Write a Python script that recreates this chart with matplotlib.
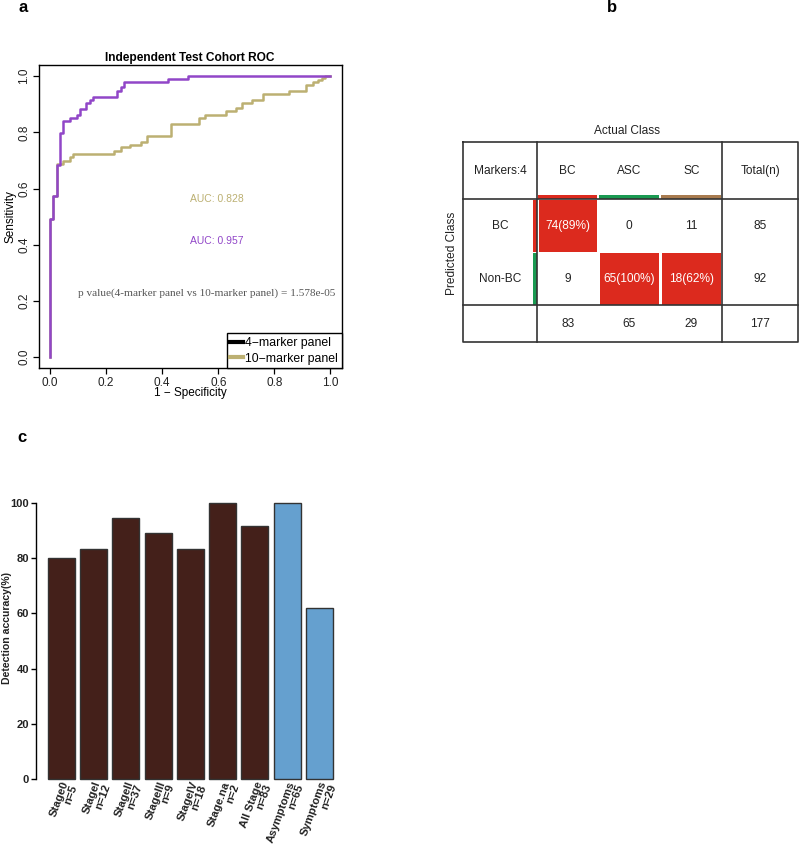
import numpy as np
import matplotlib
matplotlib.use('Agg')
import matplotlib.pyplot as plt
from matplotlib.lines import Line2D
from matplotlib.patches import Rectangle

plt.rcParams['font.family'] = ['Liberation Sans', 'DejaVu Sans']

# ---- panel a : ROC points (fpr, tpr) ----
fpr_4 = [0, 0, 0.012, 0.024, 0.036, 0.047, 0.071, 0.095, 0.107, 0.13, 0.142, 0.154,
         0.24, 0.252, 0.263, 0.42, 0.492, 1.0]
tpr_4 = [0, 0.49, 0.575, 0.685, 0.797, 0.841, 0.853, 0.863, 0.885, 0.904, 0.916, 0.927,
         0.948, 0.96, 0.981, 0.99, 1.0, 1.0]
fpr_10 = [0, 0, 0.012, 0.024, 0.047, 0.071, 0.083, 0.228, 0.252, 0.287, 0.323, 0.346,
          0.432, 0.53, 0.552, 0.626, 0.662, 0.684, 0.721, 0.759, 0.852, 0.913, 0.937,
          0.955, 0.97, 0.98, 1.0]
tpr_10 = [0, 0.49, 0.575, 0.687, 0.699, 0.712, 0.723, 0.735, 0.747, 0.756, 0.766, 0.788,
          0.831, 0.851, 0.863, 0.875, 0.887, 0.905, 0.917, 0.936, 0.948, 0.97, 0.979,
          0.987, 0.995, 1.0, 1.0]
auc_4 = 0.957
auc_10 = 0.828
p_value = '1.578e-05'

# ---- panel b : confusion table ----
actual_classes = ['BC', 'ASC', 'SC']
pred_classes = ['BC', 'Non-BC']
counts = [[74, 0, 11],
          [9, 65, 18]]
row_totals = [85, 92]
col_totals = [83, 65, 29]
grand_total = 177
true_pred = ['BC', 'Non-BC', 'Non-BC']   # which predicted row is correct per column

# ---- panel c : detection accuracy ----
groups = ['Stage0', 'StageI', 'StageII', 'StageIII', 'StageIV', 'Stage.na',
          'All Stage', 'Asymptoms', 'Symptoms']
n_group = [5, 12, 37, 9, 18, 2, 83, 65, 29]
accuracy = [80.0, 83.3, 94.6, 88.9, 83.3, 100.0, 91.6, 100.0, 62.1]
bar_colors = ['#44201a'] * 7 + ['#65a0cf'] * 2

W, H = 799, 848
fig = plt.figure(figsize=(W / 100, H / 100), dpi=100)


def fpos(l, t, r, b):
    return [l / W, 1 - b / H, (r - l) / W, (b - t) / H]


purple = '#9146c8'
olive = '#bcb072'

# ================= a =================
ax = fig.add_axes(fpos(38.7, 65, 341.7, 368.3))
ax.plot(fpr_10, tpr_10, drawstyle='steps-post', color=olive, lw=1.8)
ax.plot(fpr_4, tpr_4, drawstyle='steps-post', color=purple, lw=1.8)
ax.set_xlim(-0.04, 1.04)
ax.set_ylim(-0.04, 1.04)
ticks = [0, 0.2, 0.4, 0.6, 0.8, 1.0]
ax.set_xticks(ticks)
ax.set_yticks(ticks)
ax.set_xticklabels(['%.1f' % t for t in ticks], fontsize=8.5, color='#222222')
ax.set_yticklabels(['%.1f' % t for t in ticks], fontsize=8.5, color='#222222',
                   rotation=90, va='center')
ax.tick_params(direction='out', length=4, width=0.9, pad=2)
for s in ax.spines.values():
    s.set_linewidth(1.0)
ax.set_title('Independent Test Cohort ROC', fontsize=8.6, fontweight='bold', pad=3)
ax.set_xlabel('1 \u2212 Specificity', fontsize=8.5, labelpad=-1)
ax.set_ylabel('Sensitivity', fontsize=8.5, labelpad=1)
ax.text(0.498, 0.564, 'AUC: %.3f' % auc_10, color=olive, fontsize=7.5, va='center')
ax.text(0.498, 0.414, 'AUC: %.3f' % auc_4, color=purple, fontsize=7.5, va='center')
ax.text(0.1, 0.228, 'p value(4-marker panel vs 10-marker panel) = ' + p_value,
        family=['Liberation Serif', 'DejaVu Serif'], fontsize=8.1, color='#555555',
        va='center')
handles = [Line2D([], [], color='black', lw=3),
           Line2D([], [], color=olive, lw=3)]
leg = ax.legend(handles, ['4\u2212marker panel', '10\u2212marker panel'],
                loc='lower right', borderaxespad=0, fancybox=False, framealpha=1,
                edgecolor='black', fontsize=8.8, handlelength=1.0, handletextpad=0.2,
                borderpad=0.3, labelspacing=0.3)
leg.get_frame().set_linewidth(1.0)

# ================= b =================
tb = fig.add_axes(fpos(463.3, 142.3, 798.3, 342.3))
tb.set_xlim(0, 335)
tb.set_ylim(200, 0)
tb.axis('off')
col_edges = [0, 74, 135, 197, 259, 335]
row_edges = [0, 57, 110, 163, 200]
col_c = [(col_edges[i] + col_edges[i + 1]) / 2 for i in range(5)]
row_c = [(row_edges[i] + row_edges[i + 1]) / 2 for i in range(4)]
line_kw = dict(color='#333333', lw=1.2, clip_on=False)
tb.plot([0, 335, 335, 0, 0], [0, 0, 200, 200, 0], **line_kw)
for xe in [74, 259]:
    tb.plot([xe, xe], [0, 200], **line_kw)
for ye in [57, 163]:
    tb.plot([0, 335], [ye, ye], **line_kw)

class_colors = ['#dc2a1e', '#1a9a52', '#a87b4f']
# colour strips under header
for j in range(3):
    tb.add_patch(Rectangle((col_edges[j + 1] + 1, 52.7), col_edges[j + 2] - col_edges[j + 1] - 2, 4,
                           color=class_colors[j], lw=0))
for i in range(2):
    tb.add_patch(Rectangle((70, row_edges[i + 1] + 0.7), 4, row_edges[i + 2] - row_edges[i + 1] - 1.4,
                           color=class_colors[i], lw=0))

txt = dict(ha='center', va='center', fontsize=8.6, color='#222222')
tb.text(col_c[0], 29, 'Markers:4', **txt)
for j, c in enumerate(actual_classes):
    tb.text(col_c[j + 1], 29, c, **txt)
tb.text(col_c[4], 29, 'Total(n)', **txt)
for i, r in enumerate(pred_classes):
    tb.text(col_c[0], row_c[i + 1], r, **txt)
    for j in range(3):
        val = counts[i][j]
        if true_pred[j] == r:
            x0 = col_edges[j + 1] + 1.7
            tb.add_patch(Rectangle((x0, row_edges[i + 1] + 0.7),
                                   col_edges[j + 2] - col_edges[j + 1] - 3.4,
                                   row_edges[i + 2] - row_edges[i + 1] - 1.4,
                                   color='#dc2a1e', lw=0))
            pct = round(100 * val / col_totals[j])
            tb.text(col_c[j + 1], row_c[i + 1], '%d(%d%%)' % (val, pct),
                    ha='center', va='center', fontsize=8.6, color='white')
        else:
            tb.text(col_c[j + 1], row_c[i + 1], str(val), **txt)
    tb.text(col_c[4], row_c[i + 1], str(row_totals[i]), **txt)
for j in range(3):
    tb.text(col_c[j + 1], row_c[3], str(col_totals[j]), **txt)
tb.text(col_c[4], row_c[3], str(grand_total), **txt)
tb.text(163.4, -11.6, 'Actual Class', ha='center', va='center', fontsize=8.6,
        color='#222222', clip_on=False)
tb.text(-11.6, 111, 'Predicted Class', ha='center', va='center', fontsize=8.6,
        color='#222222', rotation=90, clip_on=False)

# ================= c =================
bx = fig.add_axes(fpos(36, 491.6, 344.7, 790.4))
xpos = np.arange(len(groups))
bx.bar(xpos, accuracy, width=0.833, color=bar_colors, edgecolor='#333333', linewidth=1.0)
bx.set_xlim(-0.779, len(groups) - 1 + 0.779)
bx.set_ylim(-4, 104)
for s in ['top', 'right', 'bottom']:
    bx.spines[s].set_visible(False)
bx.spines['left'].set_bounds(0, 100)
bx.spines['left'].set_linewidth(1.0)
bx.set_xticks([])
bx.set_yticks([0, 20, 40, 60, 80, 100])
bx.set_yticklabels(['0', '20', '40', '60', '80', '100'], fontsize=8, fontweight='bold',
                   color='#222222')
bx.tick_params(axis='y', direction='out', length=3.5, width=1.0, pad=1.5)
# y label placed by hand so it stays inside the figure
fig.text(7.5 / W, 1 - 628 / H, 'Detection accuracy(%)', rotation=90, ha='center',
         va='center', fontsize=7.6, fontweight='bold', color='#222222')
for i, g in enumerate(groups):
    bx.text(i + 0.28, -1.4, '%s\nn=%d' % (g, n_group[i]), rotation=70,
            rotation_mode='anchor', ha='right', va='center', multialignment='right',
            fontsize=8.1, fontweight='bold', color='#222222', linespacing=0.95,
            clip_on=False)

# panel letters
fig.text(22.7 / W, 1 - 8 / H, 'a', fontsize=12, fontweight='bold', ha='center', va='center')
fig.text(612 / W, 1 - 8 / H, 'b', fontsize=12, fontweight='bold', ha='center', va='center')
fig.text(22 / W, 1 - 438 / H, 'c', fontsize=12, fontweight='bold', ha='center', va='center')

fig.savefig('out.png', dpi=100)
